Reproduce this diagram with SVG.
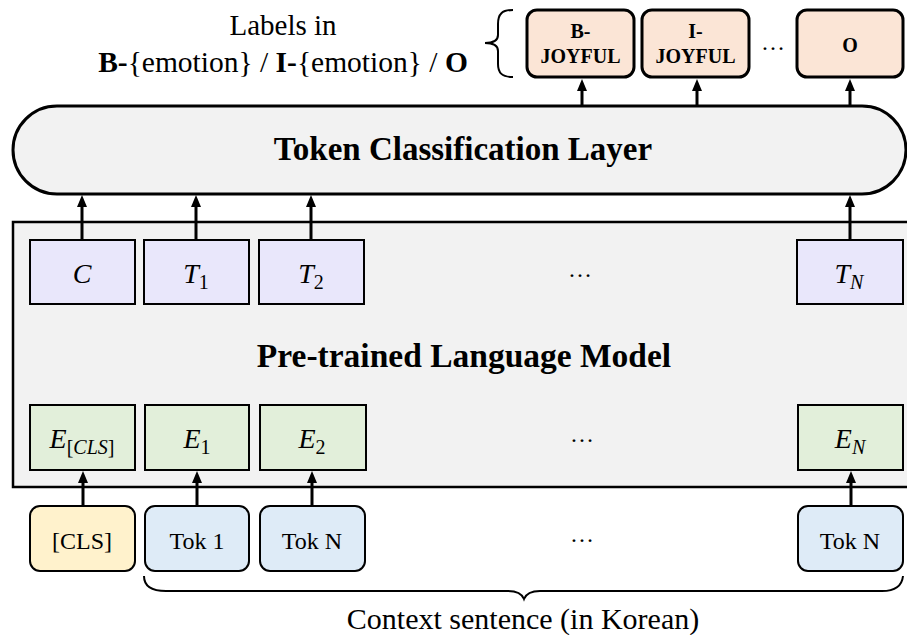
<svg xmlns="http://www.w3.org/2000/svg" width="907" height="635" viewBox="0 0 907 635">
  <style>
    text { font-family: "Liberation Serif", "DejaVu Serif", serif; fill: #000; }
    .bold { font-weight: bold; }
    .math { font-style: italic; }
    .upright { font-style: normal; }
    .label { fill: #fbe5d6; stroke: #000; stroke-width: 3; }
    .layer { fill: #f2f2f2; stroke: #000; stroke-width: 3; }
    .plm { fill: #f2f2f2; stroke: #000; stroke-width: 2.5; }
    .tout { fill: #e9e7fb; stroke: #000; stroke-width: 2; }
    .emb { fill: #e2efda; stroke: #000; stroke-width: 2; }
    .cls { fill: #fff2cc; stroke: #000; stroke-width: 2; }
    .tok { fill: #deebf7; stroke: #000; stroke-width: 2; }
    .edge { stroke: #000; stroke-width: 3; fill: none; marker-end: url(#head); }
    .brace { stroke: #000; stroke-width: 2; fill: none; }
    .dots { font-size: 24px; }
  </style>
  <defs>
    <marker id="head" viewBox="0 0 12 10" refX="3" refY="5" markerWidth="12" markerHeight="10" markerUnits="userSpaceOnUse" orient="auto">
      <path d="M0,0 L12,5 L0,10 z" fill="#000"/>
    </marker>
  </defs>

  <!-- heading for the output labels -->
  <g id="labels-caption">
    <text x="283" y="35" font-size="29" text-anchor="middle">Labels in</text>
    <text x="283" y="72" font-size="29.5" text-anchor="middle"><tspan class="bold">B-</tspan>{emotion} / <tspan class="bold">I-</tspan>{emotion} / <tspan class="bold">O</tspan></text>
    <path class="brace" d="M513,10 C502,10 498,14 498,24 L498,35 C498,40 494,43 485,43 C494,43 498,46 498,51 L498,64 C498,73 502,77 513,77"/>
  </g>

  <!-- output label boxes -->
  <g id="label-b-joyful">
    <rect class="label" x="527" y="10" width="107" height="67" rx="10"/>
    <text class="bold" x="580.5" y="38" font-size="20" text-anchor="middle">B-</text>
    <text class="bold" x="580.5" y="63" font-size="20" text-anchor="middle">JOYFUL</text>
  </g>
  <g id="label-i-joyful">
    <rect class="label" x="642" y="10" width="107" height="67" rx="10"/>
    <text class="bold" x="695.5" y="38" font-size="20" text-anchor="middle">I-</text>
    <text class="bold" x="695.5" y="63" font-size="20" text-anchor="middle">JOYFUL</text>
  </g>
  <text class="dots" x="773" y="50" text-anchor="middle">…</text>
  <g id="label-o">
    <rect class="label" x="797" y="10" width="106" height="67" rx="10"/>
    <text class="bold" x="850" y="52" font-size="20" text-anchor="middle">O</text>
  </g>

  <!-- classification layer -->
  <g id="token-classification-layer">
    <rect class="layer" x="13" y="106" width="893" height="88" rx="44"/>
    <text class="bold" x="463" y="160" font-size="33" text-anchor="middle">Token Classification Layer</text>
  </g>

  <!-- encoder body -->
  <g id="pretrained-language-model">
    <rect class="plm" x="13" y="222" width="910" height="265"/>
    <text class="bold" x="464" y="367" font-size="33.5" text-anchor="middle">Pre-trained Language Model</text>
  </g>

  <!-- encoder outputs -->
  <g id="out-c">
    <rect class="tout" x="30" y="240" width="105" height="64"/>
    <text class="math" x="82" y="283" font-size="28" text-anchor="middle">C</text>
  </g>
  <g id="out-t1">
    <rect class="tout" x="144" y="240" width="105" height="64"/>
    <text class="math" x="196" y="283" font-size="28" text-anchor="middle">T<tspan class="upright" font-size="20" dy="6">1</tspan></text>
  </g>
  <g id="out-t2">
    <rect class="tout" x="259" y="240" width="105" height="64"/>
    <text class="math" x="311" y="283" font-size="28" text-anchor="middle">T<tspan class="upright" font-size="20" dy="6">2</tspan></text>
  </g>
  <text class="dots" x="580" y="277" text-anchor="middle">…</text>
  <g id="out-tn">
    <rect class="tout" x="797" y="240" width="106" height="64"/>
    <text class="math" x="849" y="283" font-size="28" text-anchor="middle">T<tspan font-size="20" dy="6">N</tspan></text>
  </g>

  <!-- input embeddings -->
  <g id="emb-cls">
    <rect class="emb" x="30" y="405" width="105" height="65"/>
    <text class="math" x="82" y="448" font-size="28" text-anchor="middle">E<tspan font-size="20" dy="6"><tspan class="upright">[</tspan>CLS<tspan class="upright">]</tspan></tspan></text>
  </g>
  <g id="emb-1">
    <rect class="emb" x="145" y="405" width="104" height="65"/>
    <text class="math" x="197" y="448" font-size="28" text-anchor="middle">E<tspan class="upright" font-size="20" dy="6">1</tspan></text>
  </g>
  <g id="emb-2">
    <rect class="emb" x="260" y="405" width="106" height="65"/>
    <text class="math" x="312" y="448" font-size="28" text-anchor="middle">E<tspan class="upright" font-size="20" dy="6">2</tspan></text>
  </g>
  <text class="dots" x="582" y="442" text-anchor="middle">…</text>
  <g id="emb-n">
    <rect class="emb" x="798" y="405" width="105" height="65"/>
    <text class="math" x="850" y="448" font-size="28" text-anchor="middle">E<tspan font-size="20" dy="6">N</tspan></text>
  </g>

  <!-- input tokens -->
  <g id="tok-cls">
    <rect class="cls" x="30" y="506" width="105" height="65" rx="10"/>
    <text x="82" y="549" font-size="24" text-anchor="middle">[CLS]</text>
  </g>
  <g id="tok-1">
    <rect class="tok" x="145" y="506" width="104" height="65" rx="10"/>
    <text x="197" y="549" font-size="24" text-anchor="middle">Tok 1</text>
  </g>
  <g id="tok-n-first">
    <rect class="tok" x="260" y="506" width="105" height="65" rx="10"/>
    <text x="312" y="549" font-size="24" text-anchor="middle">Tok N</text>
  </g>
  <text class="dots" x="582" y="542" text-anchor="middle">…</text>
  <g id="tok-n">
    <rect class="tok" x="798" y="506" width="105" height="65" rx="10"/>
    <text x="850" y="549" font-size="24" text-anchor="middle">Tok N</text>
  </g>

  <!-- sentence brace and caption -->
  <g id="sentence-caption">
    <path class="brace" d="M144,576 C144,586 151,591 166,591 L508,591 C517,591 522,594 524,599 C526,594 531,591 540,591 L882,591 C895,591 902,586 903,576"/>
    <text x="523" y="629" font-size="30" text-anchor="middle">Context sentence (in Korean)</text>
  </g>

  <!-- connectors -->
  <g id="connectors">
    <line class="edge" x1="83" y1="506" x2="83" y2="480"/>
    <line class="edge" x1="197" y1="506" x2="197" y2="480"/>
    <line class="edge" x1="312" y1="506" x2="312" y2="480"/>
    <line class="edge" x1="851" y1="506" x2="851" y2="480"/>

    <line class="edge" x1="82" y1="240" x2="82" y2="204"/>
    <line class="edge" x1="196" y1="240" x2="196" y2="204"/>
    <line class="edge" x1="311" y1="240" x2="311" y2="204"/>
    <line class="edge" x1="850" y1="240" x2="850" y2="204"/>

    <line class="edge" x1="582" y1="106" x2="582" y2="88"/>
    <line class="edge" x1="697" y1="106" x2="697" y2="88"/>
    <line class="edge" x1="850" y1="106" x2="850" y2="88"/>
  </g>
</svg>
